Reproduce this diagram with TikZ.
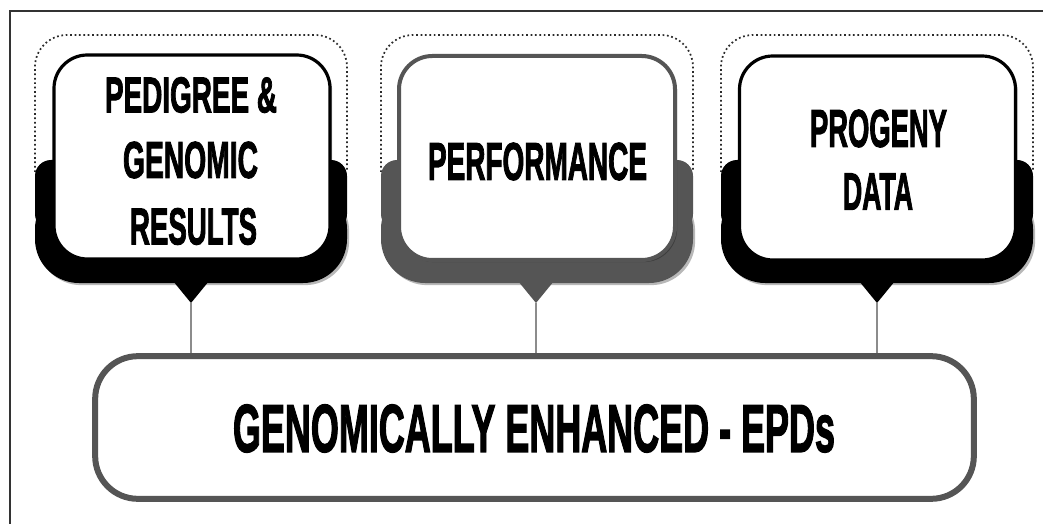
\documentclass[tikz,border=0pt]{standalone}
\usepackage{fontspec}
\setmainfont{Liberation Sans}
\newfontfamily\headfont{Liberation Sans Bold}[FakeBold=2.5]
\usepackage{graphicx}
\usetikzlibrary{shadows}
\newlength\pxu
\setlength\pxu{0.75pt}
\newcommand{\fitline}[3]{\resizebox{#1\pxu}{#2\pxu}{\headfont #3}}
\definecolor{darkgr}{HTML}{555555}
\definecolor{conngr}{HTML}{8C8C8C}
\definecolor{dotgr}{HTML}{2A2A2A}
\definecolor{framegr}{HTML}{333333}
\tikzset{
  dotline/.style={draw=dotgr, line width=1.3pt, dash pattern=on 1.3pt off 2pt, rounded corners=24pt},
  softshadow/.style={drop shadow={shadow xshift=1.6pt, shadow yshift=-1.6pt, opacity=0.28, fill=black}},
  whitebox/.style={draw=#1, fill=white, line width=2.4pt, rounded corners=25pt,
    minimum width=207pt, minimum height=153pt, inner sep=0pt, softshadow},
  textline/.style={inner sep=0pt, anchor=center},
  conn/.style={draw=conngr, line width=1.2pt},
  frameline/.style={draw=framegr, line width=1.1pt},
  bigbox/.style={draw=darkgr, fill=white, line width=4.5pt, rounded corners=32pt,
    minimum width=659pt, minimum height=107pt, inner sep=0pt, softshadow}
}
\begin{document}
\begin{tikzpicture}[x=0.75pt,y=-0.75pt]
\useasboundingbox (0,0) rectangle (1043,524);
\fill[white] (0,0) rectangle (1043,524);
% frame
\draw[frameline] (10,524) -- (10,11) -- (1043,11);

% ---------- box 1 ----------
\draw[dotline] (35,172) -- (35,35) -- (347,35) -- (347,172);
\fill[black, rounded corners=33pt, softshadow] (35,185) rectangle (347,283);
\fill[black, rounded corners=12pt] (35,160) rectangle (347,230);
\fill[black] (173,281) -- (209,281) -- (191,303) -- cycle;
\coordinate (t1) at (191,303);
\node[whitebox=black] (b1) at (192,157) {};
\node[textline] (l11) at (191,95) {\fitline{172}{35}{PEDIGREE \&}};
\node[textline] (l12) at (190.5,160) {\fitline{135}{36}{GENOMIC}};
\node[textline] (l13) at (193.5,226.5) {\fitline{127}{36}{RESULTS}};

% ---------- box 2 ----------
\draw[dotline] (381,172) -- (381,35) -- (693,35) -- (693,172);
\fill[darkgr, rounded corners=33pt, softshadow] (381,185) rectangle (693,283);
\fill[darkgr, rounded corners=12pt] (381,160) rectangle (693,230);
\fill[darkgr] (518,281) -- (554,281) -- (536,303) -- cycle;
\coordinate (t2) at (536,303);
\node[whitebox=darkgr, line width=3pt] (b2) at (537,158) {};
\node[textline] (l21) at (537.5,161.5) {\fitline{219}{37}{PERFORMANCE}};

% ---------- box 3 ----------
\draw[dotline] (721,172) -- (721,35) -- (1033,35) -- (1033,172);
\fill[black, rounded corners=33pt, softshadow] (721,185) rectangle (1033,283);
\fill[black, rounded corners=12pt] (721,160) rectangle (1033,230);
\fill[black] (859,281) -- (895,281) -- (877,303) -- cycle;
\coordinate (t3) at (877,303);
\node[whitebox=black] (b3) at (877.5,158) {};
\node[textline] (l31) at (878.5,128.5) {\fitline{137}{37}{PROGENY}};
\node[textline] (l32) at (878,191.5) {\fitline{70}{36}{DATA}};

% ---------- bottom box ----------
\node[bigbox] (g) at (534.5,427.5) {};
\node[textline] (gt) at (534,428.5) {\fitline{602}{47}{GENOMICALLY ENHANCED - EPDs}};

% connectors
\draw[conn] (t1) -- (t1 |- g.north);
\draw[conn] (t2) -- (t2 |- g.north);
\draw[conn] (t3) -- (t3 |- g.north);
\end{tikzpicture}
\end{document}
